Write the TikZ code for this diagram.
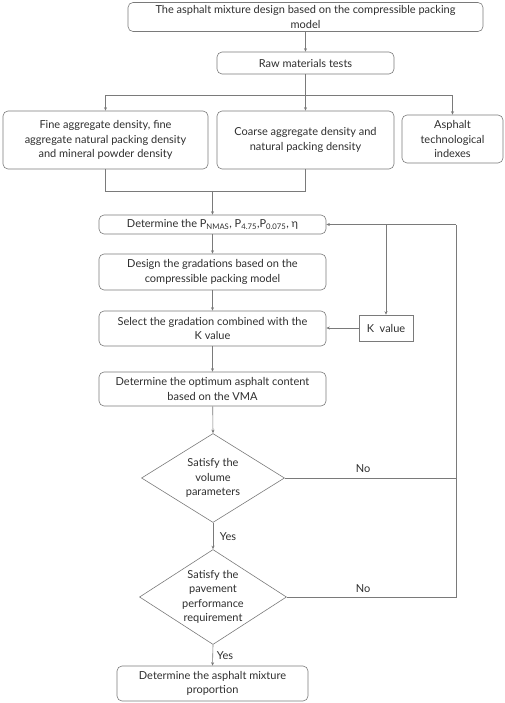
\documentclass[tikz,border=0pt]{standalone}
\usepackage{fontspec}
\setmainfont{Lato}
\usetikzlibrary{shapes.geometric,arrows.meta}
\definecolor{linegray}{HTML}{7A7A7A}
\definecolor{textgray}{HTML}{2E2E2E}
\tikzstyle{every node}=[text=textgray, font=\fontsize{11}{14.5}\selectfont, align=center]
\tikzstyle{process}=[draw=linegray, rounded corners=5pt, inner sep=0pt]
\tikzstyle{kbox}=[draw=linegray, inner sep=0pt]
\tikzstyle{decision}=[draw=linegray, diamond, inner sep=-6pt, aspect=1.6]
\tikzstyle{link}=[-{Stealth[length=3.5pt,width=3pt]}]

\begin{document}
\begin{tikzpicture}[x=1pt, y=-1pt, line width=0.6pt, draw=linegray]
\useasboundingbox (0,0) rectangle (505,703);
% Boxes
    \node[process, minimum width=355, minimum height=29] (top) at (305.5,17)
        {The asphalt mixture design based on the compressible packing\\model};
    \node[process, minimum width=177, minimum height=22] (raw) at (305.5,63) {Raw materials tests};
    \node[process, minimum width=205, minimum height=58] (fine) at (105.5,140)
        {Fine aggregate density, fine\\aggregate natural packing density\\and mineral powder density};
    \node[process, minimum width=177, minimum height=58] (coarse) at (305.5,140)
        {Coarse aggregate density and\\natural packing density};
    \node[process, minimum width=101, minimum height=48] (asph) at (452.5,139)
        {Asphalt\\technological\\indexes};
    \node[process, minimum width=227, minimum height=19] (detp) at (212.5,224.5)
        {Determine the P\textsubscript{NMAS}, P\textsubscript{4.75},P\textsubscript{0.075}, η};
    \node[process, minimum width=227, minimum height=36] (design) at (212.5,272)
        {Design the gradations based on the\\compressible packing model};
    \node[process, minimum width=227, minimum height=35] (select) at (212.5,328.5)
        {Select the gradation combined with the\\K value};
    \node[kbox, minimum width=54, minimum height=26] (kval) at (386,328) {K~~value};
    \node[process, minimum width=227, minimum height=34] (optimum) at (212.5,389)
        {Determine the optimum asphalt content\\based on the VMA};
    \node[decision, minimum width=143, minimum height=89] (vol) at (213,478)
        {Satisfy the\\volume\\parameters};
    \node[decision, minimum width=147, minimum height=95] (pave) at (213,597)
        {Satisfy the\\pavement\\performance\\requirement};
    \node[process, minimum width=191, minimum height=35] (final) at (212.5,683.5)
        {Determine the asphalt mixture\\proportion};

% Connectors
    \coordinate (split) at (305.5,95);
    \coordinate (join) at (212.5,191);
    \coordinate (back) at (456,224.5);
    \draw[link] (top) -- (raw);
    \draw (raw) -- (split);
    \draw[link] (split) -| (fine.north);
    \draw[link] (split) -- (coarse.north);
    \draw[link] (split) -| (asph.north);
    \draw (fine.south) |- (join);
    \draw (coarse.south) |- (join);
    \draw[link] (join) -- (detp.north);
    \draw[link] (detp) -- (design);
    \draw[link] (design) -- (select);
    \draw[link] (select) -- (optimum);
    \draw[link] (optimum) -- (vol.north);
    \draw[link] (vol.south) -- (pave.north);
    \draw[link] (pave.south) -- (final.north);
    \draw (vol.east) -- (vol.east -| back);
    \draw (pave.east) -| (back);
    \draw[link] (back) -- (detp.east);
    \draw[link] (detp.east -| kval.north) -- (kval.north);
    \draw[link] (kval.west) -- (kval.west -| select.east);

% Labels
    \node (no1) at (363,469) {No};
    \node (no2) at (363,589) {No};
    \node (yes1) at (228,537) {Yes};
    \node (yes2) at (225,656) {Yes};

\end{tikzpicture}
\end{document}
